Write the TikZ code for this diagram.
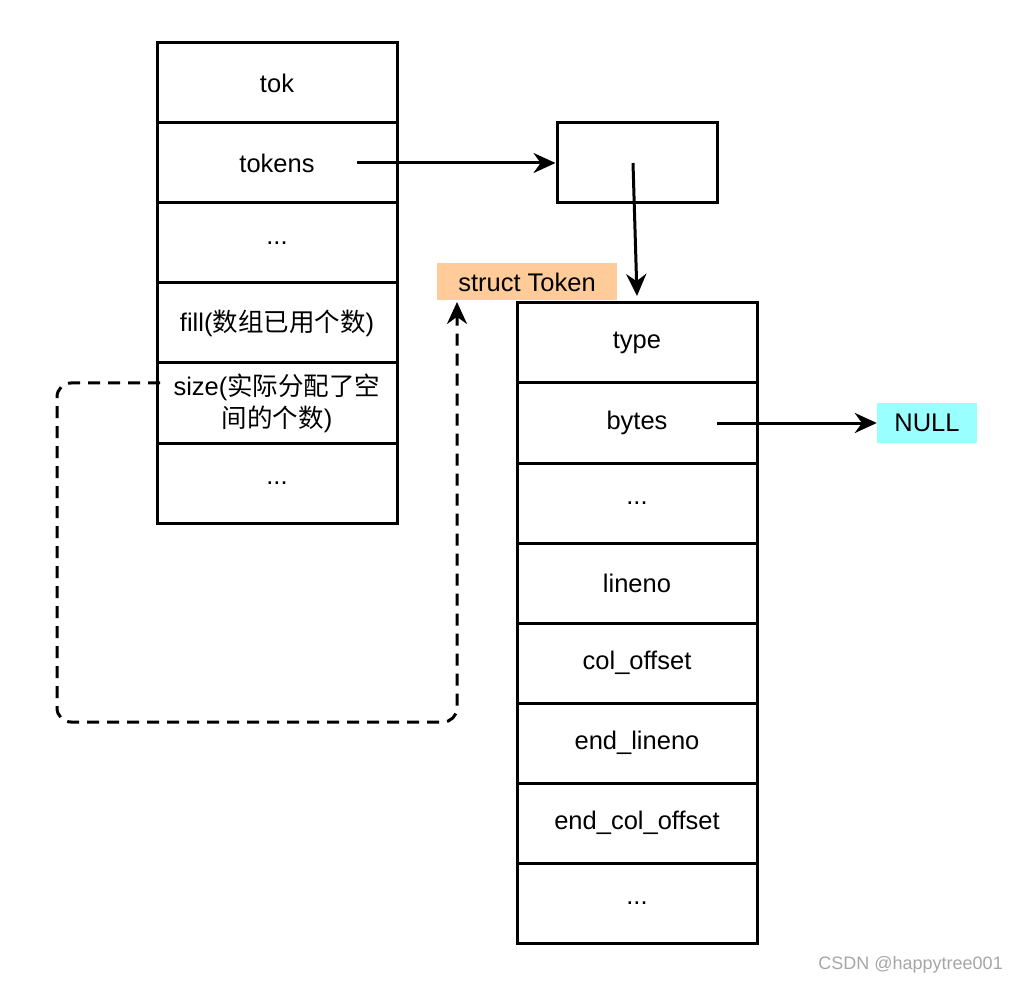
\documentclass[tikz,border=0pt]{standalone}
\usepackage{fontspec}
\setmainfont{Liberation Sans}
\newfontfamily\cjk{Noto Sans CJK SC}
\usetikzlibrary{arrows.meta}
\begin{document}
\begin{tikzpicture}[x=1pt,y=-1pt,
  cell/.style={draw,line width=3pt,minimum width=240pt,minimum height=80pt,inner sep=0pt,font=\fontsize{25.5}{32}\selectfont,align=center},
  arr/.style={line width=3pt,-{Stealth[length=22pt,width=20pt]}},
  lbl/.style={inner sep=0pt,font=\fontsize{25.5}{32}\selectfont}]
\useasboundingbox (0,0) rectangle (1018,984);
\node[cell] (L1) at (277,83) {tok};
\node[cell] (L2) at (277,163) {tokens};
\node[cell] (L3) at (277,243) {...};
\node[cell] (L4) at (277,323) {fill({\cjk 数组已用个数})};
\node[cell] (L5) at (277,403) {size({\cjk 实际分配了空}\\{\cjk 间的个数})};
\node[cell] (L6) at (277,483) {...};
\node[cell,minimum width=160pt] (B) at (637,163) {};
\node[cell] (R1) at (637,343) {type};
\node[cell] (R2) at (637,423) {bytes};
\node[cell] (R3) at (637,503) {...};
\node[cell] (R4) at (637,583) {lineno};
\node[cell] (R5) at (637,663) {col\_offset};
\node[cell] (R6) at (637,743) {end\_lineno};
\node[cell] (R7) at (637,823) {end\_col\_offset};
\node[cell] (R8) at (637,903) {...};
\node[lbl,fill={rgb,255:red,255;green,204;blue,153},minimum width=180pt,minimum height=37pt] (ST) at (527,282) {struct Token};
\node[lbl,fill={rgb,255:red,153;green,255;blue,255},minimum width=100pt,minimum height=40pt] (N) at (927,423) {NULL};
\coordinate (t1) at (357,163);
\coordinate (b1) at (633,163);
\coordinate (b2) at (637,296);
\coordinate (y1) at (717,423);
\coordinate (s1) at (160,383);
\coordinate (s2) at (457,302);
\draw[arr] (t1) -- (B.west);
\draw[arr] (b1) -- (b2);
\draw[arr] (y1) -- (N.west);
\draw[arr,dash pattern=on 12pt off 8pt,rounded corners=14pt] (s1) -- (57,383) -- (57,722) -- (457,722) -- (s2);
\node[inner sep=0pt,text=gray!70,font=\fontsize{18}{22}\selectfont,anchor=east] (W) at (1003,965) {CSDN @happytree001};
\end{tikzpicture}
\end{document}
